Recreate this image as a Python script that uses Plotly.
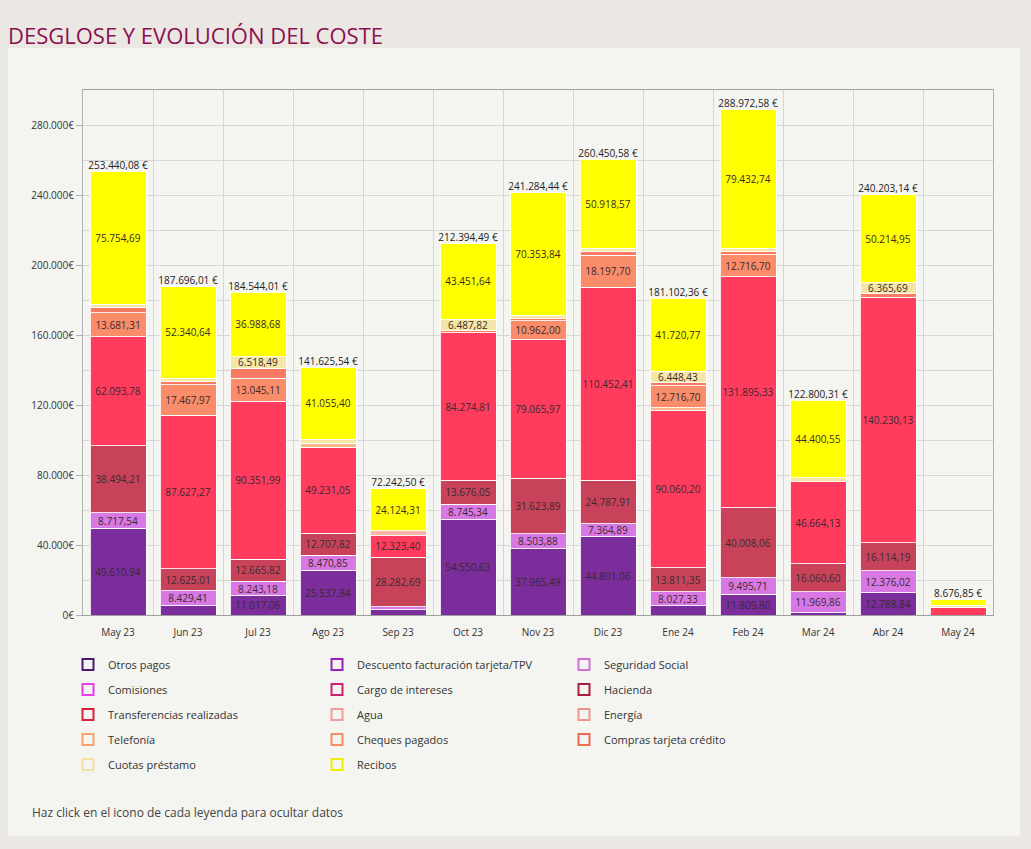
import plotly.graph_objects as go

months = ["May 23", "Jun 23", "Jul 23", "Ago 23", "Sep 23", "Oct 23", "Nov 23",
          "Dic 23", "Ene 24", "Feb 24", "Mar 24", "Abr 24", "May 24"]

otros_pagos = [49610.94, 5400.00, 11017.06, 25537.84, 3000.00, 54550.63, 37965.49,
               44801.06, 5200.00, 11809.80, 1400.00, 12788.84, 0]
descuento_tpv = [0] * 13
seguridad_social = [8717.54, 8429.41, 8243.18, 8470.85, 1700.00, 8745.34, 8503.88,
                    7364.89, 8027.33, 9495.71, 11969.86, 12376.02, 0]
comisiones = [0] * 13
cargo_intereses = [0] * 13
hacienda = [38494.21, 12625.01, 12665.82, 12707.82, 28282.69, 13676.05, 31623.89,
            24787.91, 13811.35, 40008.06, 16060.60, 16114.19, 0]
transferencias = [62093.78, 87627.27, 90351.99, 49231.05, 12323.40, 84274.81, 79065.97,
                  110452.41, 90060.20, 131895.33, 46664.13, 140230.13, 4300.00]
agua = [0] * 13
energia = [0, 0, 0, 0, 2812.10, 0, 0, 0, 0, 0, 0, 0, 0]
telefonia = [0, 0, 0, 2300.00, 0, 0, 0, 0, 1317.58, 0, 0, 0, 0]
cheques = [13681.31, 17467.97, 13045.11, 0, 0, 0, 10962.00, 18197.70, 12716.70,
           12716.70, 0, 0, 0]
compras_tarjeta = [3087.61, 2000.00, 5713.68, 0, 0, 1208.20, 1309.37, 2000.00, 1800.00,
                   1614.24, 0, 2113.32, 0]
cuotas_prestamo = [2000.00, 1805.71, 6518.49, 2322.58, 0, 6487.82, 1500.00, 1928.04,
                   6448.43, 2000.00, 2305.17, 6365.69, 1200.00]
recibos = [75754.69, 52340.64, 36988.68, 41055.40, 24124.31, 43451.64, 70353.84,
           50918.57, 41720.77, 79432.74, 44400.55, 50214.95, 3176.85]

series = [
    ("Otros pagos", otros_pagos, "#7b2d9b", "#4b1a6e"),
    ("Descuento facturación tarjeta/TPV", descuento_tpv, "#a62bc4", "#9a20c0"),
    ("Seguridad Social", seguridad_social, "#d878e4", "#d070d8"),
    ("Comisiones", comisiones, "#e640e6", "#e640e6"),
    ("Cargo de intereses", cargo_intereses, "#d8307c", "#d02070"),
    ("Hacienda", hacienda, "#c8435a", "#a82040"),
    ("Transferencias realizadas", transferencias, "#ff3b5e", "#d8203c"),
    ("Agua", agua, "#f5a3a3", "#f09c9c"),
    ("Energía", energia, "#f9b3ab", "#f09490"),
    ("Telefonía", telefonia, "#fbb58a", "#f8a470"),
    ("Cheques pagados", cheques, "#fa8c6a", "#f88c64"),
    ("Compras tarjeta crédito", compras_tarjeta, "#f87a62", "#f06a4e"),
    ("Cuotas préstamo", cuotas_prestamo, "#f4e6a6", "#f4e0a0"),
    ("Recibos", recibos, "#ffff00", "#eeee00"),
]


def es(v):
    s = f"{v:,.2f}"
    return s.replace(",", "X").replace(".", ",").replace("X", ".")


totals = [round(sum(s[1][i] for s in series), 2) for i in range(len(months))]

# plot area in pixels
L, R, T, B = 83, 993, 90, 615
W, H = R - L, B - T


def px(x):
    return (x - L) / W


def py(y):
    return (B - y) / H


fig = go.Figure()

legend_ids = ["legend", "legend2", "legend3"]
for i, (name, vals, col, lcol) in enumerate(series):
    fig.add_trace(go.Bar(
        x=months, y=vals, name=name, legendgroup=name, showlegend=False,
        marker=dict(color=col, line=dict(color="rgba(255,255,255,0.85)", width=1)),
        text=[es(v) if v >= 6000 else "" for v in vals],
        texttemplate="%{text}", textposition="inside", insidetextanchor="middle",
        textangle=0, constraintext="none",
        textfont=dict(size=10, color="#3a2a2a", family="Open Sans"),
        hovertemplate=name + ": %{y:,.2f} €<extra></extra>",
    ))

for i, (name, vals, col, lcol) in enumerate(series):
    fig.add_trace(go.Scatter(
        x=[None], y=[None], mode="markers", name=name, legendgroup=name,
        legend=legend_ids[i % 3], showlegend=True,
        marker=dict(symbol="square-open", size=11, color=lcol, line=dict(width=2, color=lcol)),
        hoverinfo="skip",
    ))

fig.add_trace(go.Scatter(
    x=months, y=totals, mode="text", showlegend=False,
    text=[es(t) + " €" for t in totals], textposition="top center",
    textfont=dict(size=10, color="#222", family="Open Sans"),
    cliponaxis=False, hoverinfo="skip",
))

legend_common = dict(
    orientation="v", yanchor="top", xanchor="left", traceorder="grouped",
    tracegroupgap=6, bgcolor="rgba(0,0,0,0)",
    font=dict(size=11, color="#333", family="Open Sans"),
)

fig.update_layout(
    width=1031, height=849,
    margin=dict(l=L, r=1031 - R, t=T, b=849 - B, autoexpand=False),
    paper_bgcolor="#ebe7e2", plot_bgcolor="rgba(0,0,0,0)",
    barmode="stack", bargap=0.2,
    separators=",.",
    font=dict(family="Open Sans", color="#333"),
    xaxis=dict(
        type="category", range=[-0.5, len(months) - 0.5],
        tickson="boundaries", showgrid=True, gridcolor="#d6d6d6",
        showline=True, linecolor="#a0a0a0", mirror=True, ticks="",
        tickfont=dict(size=10, color="#333"), ticklabelstandoff=8,
    ),
    yaxis=dict(
        range=[0, 300000], dtick=40000, tickformat=",.0f", ticksuffix="€",
        showgrid=True, gridcolor="#d6d6d6",
        minor=dict(dtick=20000, showgrid=True, gridcolor="#d6d6d6"),
        showline=True, linecolor="#b0b0b0", mirror=True,
        ticks="outside", ticklen=6, tickcolor="#b0b0b0",
        tickfont=dict(size=10, color="#333"), zeroline=False,
    ),
    legend=dict(x=px(68), y=py(650), **legend_common),
    legend2=dict(x=px(317), y=py(650), **legend_common),
    legend3=dict(x=px(564), y=py(650), **legend_common),
    shapes=[dict(
        type="rect", xref="paper", yref="paper", layer="below",
        x0=px(8), x1=px(1020), y0=py(836), y1=py(48),
        fillcolor="#f4f4f0", line=dict(width=0),
    )],
    annotations=[
        dict(text="DESGLOSE Y EVOLUCIÓN DEL COSTE", xref="paper", yref="paper",
             x=px(6), y=py(35), xanchor="left", yanchor="middle", showarrow=False,
             font=dict(size=22, color="#8c0f52", family="Open Sans")),
        dict(text="Haz click en el icono de cada leyenda para ocultar datos",
             xref="paper", yref="paper", x=px(30), y=py(812), xanchor="left",
             yanchor="middle", showarrow=False,
             font=dict(size=12, color="#444", family="Open Sans")),
    ],
)

fig.write_html("out.html")
